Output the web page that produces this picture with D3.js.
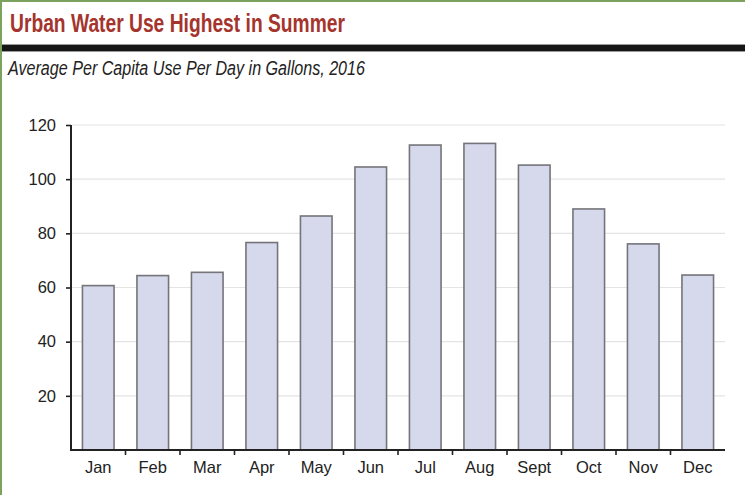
<!DOCTYPE html>
<html>
<head>
<meta charset="utf-8">
<script src="https://cdnjs.cloudflare.com/ajax/libs/d3/7.8.5/d3.min.js"></script>
<style>
  body { margin: 0; background: #fff; }
  text { font-family: "Liberation Sans", Arial, sans-serif; }
</style>
</head>
<body>
<div id="chart"></div>
<script>
var months = ["Jan", "Feb", "Mar", "Apr", "May", "Jun", "Jul", "Aug", "Sept", "Oct", "Nov", "Dec"];
var gallons = [60.7, 64.4, 65.6, 76.6, 86.4, 104.5, 112.6, 113.2, 105.2, 89.0, 76.1, 64.6];
var yTicks = [20, 40, 60, 80, 100, 120];

var title = "Urban Water Use Highest in Summer";
var subtitle = "Average Per Capita Use Per Day in Gallons, 2016";

var W = 745, H = 495;
var margin = {top: 125, right: 20, bottom: 45, left: 71};
var width = W - margin.left - margin.right;
var height = H - margin.top - margin.bottom;

var svg = d3.select("#chart").append("svg")
  .attr("width", W)
  .attr("height", H);

svg.append("rect").attr("width", W).attr("height", H).attr("fill", "#fff");

// green frame, top and left only
svg.append("rect").attr("x", 0).attr("y", 0).attr("width", W).attr("height", 2).attr("fill", "#7ba35e");
svg.append("rect").attr("x", 0).attr("y", 0).attr("width", 2).attr("height", H).attr("fill", "#7ba35e");

svg.append("text")
  .attr("x", 10).attr("y", 32)
  .attr("textLength", 335).attr("lengthAdjust", "spacingAndGlyphs")
  .style("font-size", "25px").style("font-weight", "bold")
  .style("fill", "#a5342d")
  .text(title);

// black rule under title
svg.append("rect").attr("x", 2).attr("y", 44).attr("width", W).attr("height", 8).attr("fill", "#9a9a9a");
svg.append("rect").attr("x", 2).attr("y", 45).attr("width", W).attr("height", 6).attr("fill", "#161616");

svg.append("text")
  .attr("x", 8).attr("y", 75)
  .attr("textLength", 357).attr("lengthAdjust", "spacingAndGlyphs")
  .style("font-size", "20px").style("font-style", "italic")
  .style("fill", "#222")
  .text(subtitle);

var g = svg.append("g").attr("transform", "translate(" + margin.left + "," + margin.top + ")");

var x = d3.scaleBand().domain(months).range([0, width]).paddingInner(0.42).paddingOuter(0.21);
var y = d3.scaleLinear().domain([0, 120]).range([height, 0]);

// gridlines
g.selectAll(".grid").data(yTicks).enter().append("line")
  .attr("x1", 1).attr("x2", width)
  .attr("y1", function(d) { return y(d); })
  .attr("y2", function(d) { return y(d); })
  .style("stroke", "#e4e4e4").style("stroke-width", "1.2px");

g.selectAll(".bar").data(gallons).enter().append("rect")
  .attr("x", function(d, i) { return x(months[i]); })
  .attr("y", function(d) { return y(d); })
  .attr("width", x.bandwidth())
  .attr("height", function(d) { return height - y(d); })
  .style("fill", "#d6d8ec")
  .style("stroke", "#74747a")
  .style("stroke-width", "1.6px");

// y axis
var yAxis = d3.axisLeft(y).tickValues(yTicks).tickSize(5).tickPadding(10);
var ya = g.append("g").call(yAxis);
ya.select(".domain").attr("d", "M0," + y(120) + "V" + height).style("stroke", "#222").style("stroke-width", "2px");
ya.selectAll(".tick line").style("stroke", "#222").style("stroke-width", "1.6px");
ya.selectAll("text").style("font-size", "16.5px").style("fill", "#222").style("font-family", "Liberation Sans, Arial, sans-serif");

// x axis: ticks sit between bars
var step = x.step();
var xa = g.append("g").attr("transform", "translate(0," + height + ")");
xa.append("line").attr("x1", -1).attr("x2", width).style("stroke", "#222").style("stroke-width", "2px");
xa.selectAll(".xt").data(months.slice(1)).enter().append("line")
  .attr("x1", function(d) { return x(d) - (step - x.bandwidth()) / 2; })
  .attr("x2", function(d) { return x(d) - (step - x.bandwidth()) / 2; })
  .attr("y1", 0).attr("y2", 5)
  .style("stroke", "#222").style("stroke-width", "1.6px");
xa.selectAll(".xl").data(months).enter().append("text")
  .attr("x", function(d) { return x(d) + x.bandwidth() / 2; })
  .attr("y", 23)
  .attr("text-anchor", "middle")
  .style("font-size", "16.5px").style("fill", "#222")
  .text(function(d) { return d; });
</script>
</body>
</html>
